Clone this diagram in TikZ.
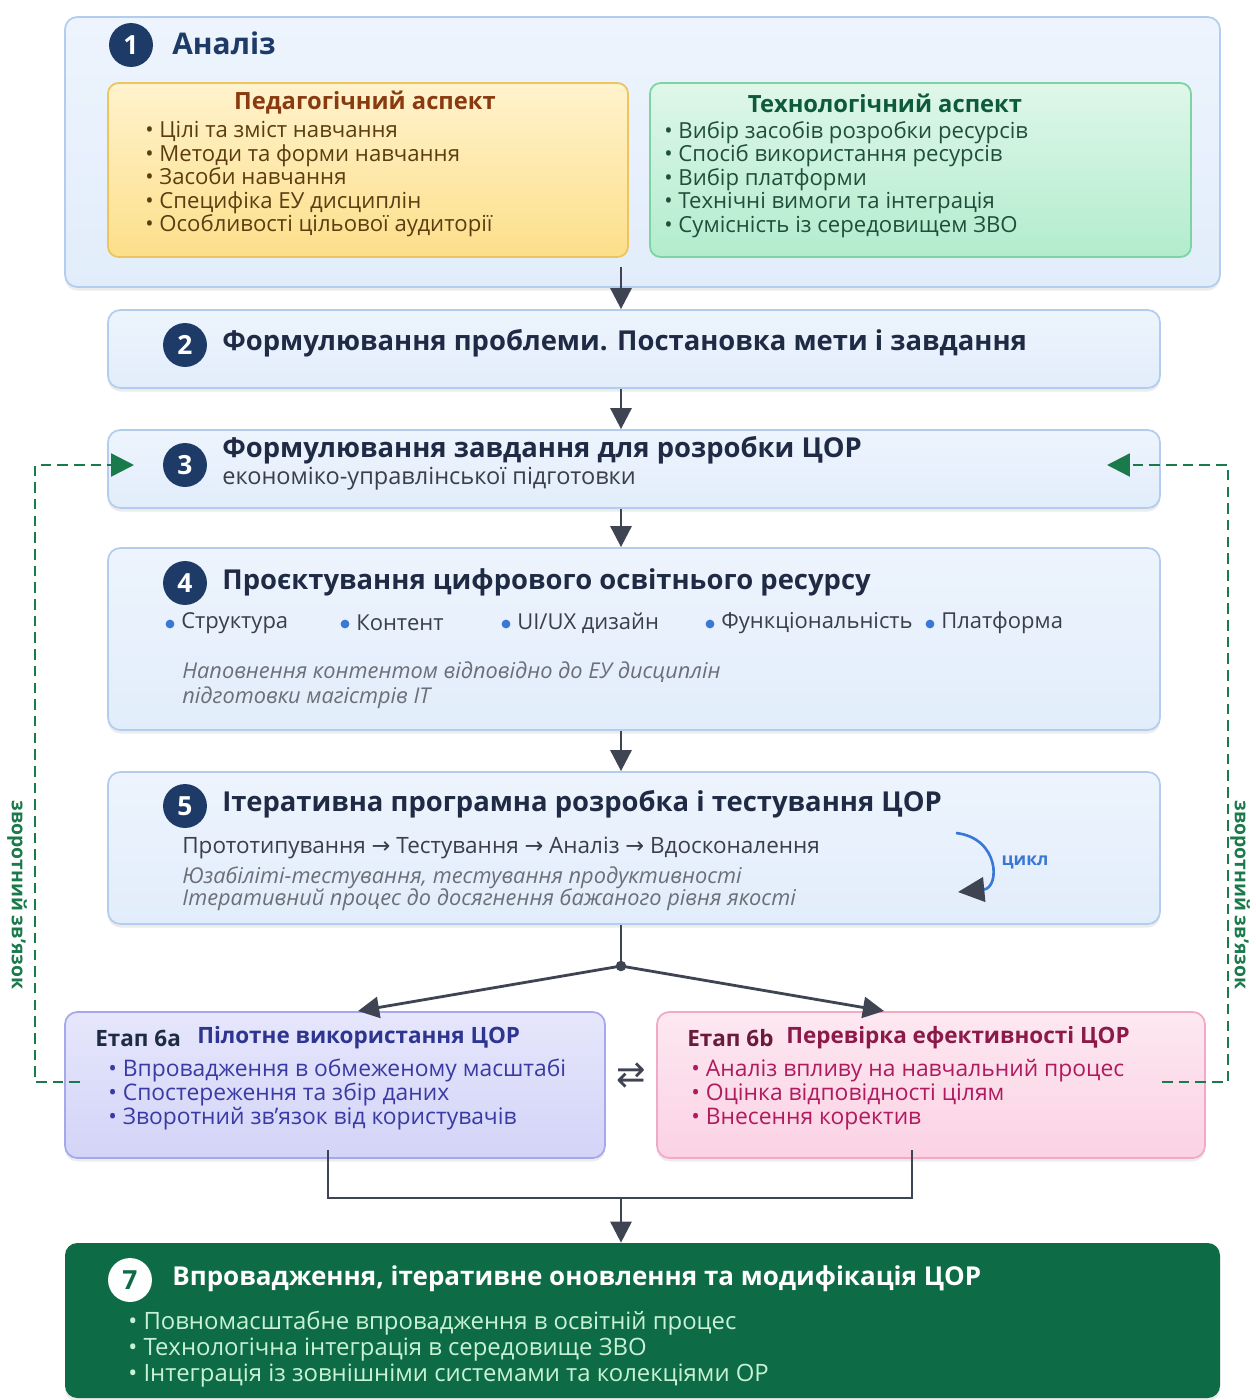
\documentclass[tikz,border=0pt]{standalone}
\usepackage{fontspec}
\setmainfont{Open Sans}
\newfontfamily\symfont{DejaVu Sans}
\usetikzlibrary{arrows.meta,fit,shadows}

\definecolor{navy}{HTML}{1E3A66}
\definecolor{titlecol}{HTML}{1F2B45}
\definecolor{bodytext}{HTML}{3A3F4A}
\definecolor{greytext}{HTML}{6B6F78}
\definecolor{boxtop}{HTML}{EDF4FD}
\definecolor{boxbot}{HTML}{E2EDFB}
\definecolor{boxline}{HTML}{B3CDEE}
\definecolor{flowcol}{HTML}{3F4452}
\definecolor{pedtop}{HTML}{FFF3CD}
\definecolor{pedbot}{HTML}{FDDF8A}
\definecolor{pedline}{HTML}{EEC45E}
\definecolor{pedtitle}{HTML}{8A3A10}
\definecolor{peditem}{HTML}{5C3D12}
\definecolor{techtop}{HTML}{DFF7E9}
\definecolor{techbot}{HTML}{B2ECCD}
\definecolor{techline}{HTML}{7DD3A3}
\definecolor{techtitle}{HTML}{0E5A3C}
\definecolor{techitem}{HTML}{1F4F3A}
\definecolor{pilottop}{HTML}{E6E6FC}
\definecolor{pilotbot}{HTML}{D3D4F7}
\definecolor{pilotline}{HTML}{A5A8EC}
\definecolor{pilottitle}{HTML}{2D3590}
\definecolor{pilotitem}{HTML}{3A3AA5}
\definecolor{checktop}{HTML}{FDE8F1}
\definecolor{checkbot}{HTML}{FBD2E4}
\definecolor{checkline}{HTML}{F2A9C6}
\definecolor{checkhead}{HTML}{6A1A3A}
\definecolor{checktitle}{HTML}{8B1A4A}
\definecolor{checkitem}{HTML}{B01A5E}
\definecolor{finalfill}{HTML}{0D6B45}
\definecolor{finalitem}{HTML}{C8F2D6}
\definecolor{fbcol}{HTML}{1B7A4C}
\definecolor{dotblue}{HTML}{3A78D6}

\begin{document}
\begin{tikzpicture}[x=0.02cm, y=-0.02cm,
  stagebox/.style={draw=boxline, line width=1pt, rounded corners=7pt, inner sep=0pt,
    top color=boxtop, bottom color=boxbot,
    drop shadow={opacity=0.15, shadow xshift=0pt, shadow yshift=-2pt}},
  aspectbox/.style={line width=1pt, rounded corners=6pt, inner sep=0pt},
  badge/.style={circle, fill=navy, text=white, minimum size=25pt, inner sep=0pt,
    font=\fontsize{15}{15}\selectfont\bfseries},
  stagetitle/.style={anchor=west, inner sep=0pt, text=titlecol,
    font=\fontsize{15.6}{18}\selectfont\bfseries},
  list/.style={anchor=north west, align=left, inner sep=0pt},
  bdot/.style={circle, fill=dotblue, inner sep=0pt, minimum size=5pt},
  flow/.style={-{Triangle[length=12pt,width=12pt]}, line width=1.6pt, draw=flowcol},
  link/.style={line width=1.6pt, draw=flowcol},
  feedback/.style={-{Triangle[length=13pt,width=13pt]}, line width=1.4pt, draw=fbcol,
    dash pattern=on 6pt off 3.5pt},
  sidelabel/.style={rotate=-90, text=fbcol, font=\fontsize{11}{13}\selectfont\bfseries}]

  \fill[white] (0,0) rectangle (1255,1400);
  \useasboundingbox (0,0) rectangle (1255,1400);

  % Stage 1: analysis with two aspects
  \node[stagebox, fit={(65,17) (1220,287)}] (s1) {};
  \node[badge] (n1) at (131,45) {1};
  \node[stagetitle, text=navy, font=\fontsize{17}{20}\selectfont\bfseries] (t1) at (172,43) {Аналіз};

  \node[aspectbox, draw=pedline, top color=pedtop, bottom color=pedbot, fit={(108,83) (628,257)}] (ped) {};
  \node[text=pedtitle, font=\fontsize{13.5}{16}\selectfont\bfseries] (pedT) at (365,103) {Педагогічний аспект};
  \node[list, text=peditem, font=\fontsize{12.6}{13.4}\selectfont] (pedL) at (145,121)
    {• Цілі та зміст навчання\\ • Методи та форми навчання\\ • Засоби навчання\\
     • Специфіка ЕУ дисциплін\\ • Особливості цільової аудиторії};

  \node[aspectbox, draw=techline, top color=techtop, bottom color=techbot, fit={(650,83) (1191,257)}] (tech) {};
  \node[text=techtitle, font=\fontsize{13.5}{16}\selectfont\bfseries] (techT) at (885,103) {Технологічний аспект};
  \node[list, text=techitem, font=\fontsize{12.6}{13.4}\selectfont] (techL) at (664,121)
    {• Вибір засобів розробки ресурсів\\ • Спосіб використання ресурсів\\ • Вибір платформи\\
     • Технічні вимоги та інтеграція\\ • Сумісність із середовищем ЗВО};

  % Stages 2 and 3
  \node[stagebox, fit={(108,310) (1160,388)}] (s2) {};
  \node[badge] (n2) at (185,345) {2};
  \node[stagetitle] (t2) at (222,343) {Формулювання проблеми. Постановка мети і завдання};

  \node[stagebox, fit={(108,430) (1160,508)}] (s3) {};
  \node[badge] (n3) at (185,465) {3};
  \node[stagetitle] (t3) at (222,450) {Формулювання завдання для розробки ЦОР};
  \node[anchor=west, inner sep=0pt, text=bodytext, font=\fontsize{13.4}{15}\selectfont] (t3b) at (222,479)
    {економіко-управлінської підготовки};

  % Stage 4: design
  \node[stagebox, fit={(108,548) (1160,730)}] (s4) {};
  \node[badge] (n4) at (185,583) {4};
  \node[stagetitle] (t4) at (222,582) {Проєктування цифрового освітнього ресурсу};
  \node[bdot] (d1) at (170,624) {};
  \node[bdot] (d2) at (345,624) {};
  \node[bdot] (d3) at (506,624) {};
  \node[bdot] (d4) at (710,624) {};
  \node[bdot] (d5) at (930,624) {};
  \node[anchor=west, inner sep=0pt, text=bodytext, font=\fontsize{12.5}{15}\selectfont] (b1) at (181,623) {Структура};
  \node[anchor=west, inner sep=0pt, text=bodytext, font=\fontsize{12.5}{15}\selectfont] (b2) at (356,623) {Контент};
  \node[anchor=west, inner sep=0pt, text=bodytext, font=\fontsize{12.5}{15}\selectfont] (b3) at (517,623) {UI/UX дизайн};
  \node[anchor=west, inner sep=0pt, text=bodytext, font=\fontsize{12.5}{15}\selectfont] (b4) at (721,623) {Функціональність};
  \node[anchor=west, inner sep=0pt, text=bodytext, font=\fontsize{12.5}{15}\selectfont] (b5) at (941,623) {Платформа};
  \node[list, text=greytext, font=\fontsize{12.4}{14.7}\selectfont\itshape] (t4i) at (182,661)
    {Наповнення контентом відповідно до ЕУ дисциплін\\ підготовки магістрів IT};

  % Stage 5: iterative development
  \node[stagebox, fit={(108,772) (1160,924)}] (s5) {};
  \node[badge] (n5) at (185,806) {5};
  \node[stagetitle] (t5) at (222,804) {Ітеративна програмна розробка і тестування ЦОР};
  \node[anchor=west, inner sep=0pt, text=bodytext, font=\fontsize{12.8}{15}\selectfont] (t5a) at (182,848)
    {Прототипування {\symfont →} Тестування {\symfont →} Аналіз {\symfont →} Вдосконалення};
  \node[list, text=greytext, font=\fontsize{12.4}{13}\selectfont\itshape] (t5i) at (182,866)
    {Юзабіліті-тестування, тестування продуктивності\\ Ітеративний процес до досягнення бажаного рівня якості};
  \coordinate (c1) at (956,833);
  \coordinate (c2) at (958,892);
  \draw[draw=dotblue, line width=1.5pt, -{Triangle[length=15pt,width=14pt,fill=flowcol,color=flowcol]}]
    (c1) .. controls (1000,838) and (1000,888) .. (c2);
  \node[text=dotblue, font=\fontsize{10}{12}\selectfont\bfseries] (cyc) at (1025,862) {цикл};

  % Stages 6a and 6b
  \node[stagebox, draw=pilotline, top color=pilottop, bottom color=pilotbot, fit={(65,1012) (605,1158)}] (s6a) {};
  \node[anchor=west, inner sep=0pt, text=titlecol, font=\fontsize{12.8}{16}\selectfont\bfseries] (e6a) at (95,1038) {Етап 6а};
  \node[anchor=west, inner sep=0pt, text=pilottitle, font=\fontsize{12.8}{16}\selectfont\bfseries] (h6a) at (197,1038) {Пілотне використання ЦОР};
  \node[list, text=pilotitem, font=\fontsize{13}{13.6}\selectfont] (l6a) at (108,1059)
    {• Впровадження в обмеженому масштабі\\ • Спостереження та збір даних\\ • Зворотний зв'язок від користувачів};

  \node[stagebox, draw=checkline, top color=checktop, bottom color=checkbot, fit={(657,1012) (1205,1158)}] (s6b) {};
  \node[anchor=west, inner sep=0pt, text=checkhead, font=\fontsize{12.8}{16}\selectfont\bfseries] (e6b) at (687,1038) {Етап 6b};
  \node[anchor=west, inner sep=0pt, text=checktitle, font=\fontsize{12.8}{16}\selectfont\bfseries] (h6b) at (786,1038) {Перевірка ефективності ЦОР};
  \node[list, text=checkitem, font=\fontsize{13}{13.6}\selectfont] (l6b) at (691,1059)
    {• Аналіз впливу на навчальний процес\\ • Оцінка відповідності цілям\\ • Внесення коректив};

  \node[text=flowcol, font=\symfont\fontsize{20}{20}\selectfont] (sw) at (631,1075) {⇄};

  % Stage 7: final
  \node[fill=finalfill, rounded corners=7pt, inner sep=0pt, fit={(65,1243) (1220,1398)},
    drop shadow={opacity=0.15, shadow xshift=0pt, shadow yshift=-2pt}] (s7) {};
  \node[badge, fill=white, text=finalfill] (n7) at (130,1280) {7};
  \node[stagetitle, text=white, font=\fontsize{14.8}{17}\selectfont\bfseries] (t7) at (172,1279)
    {Впровадження, ітеративне оновлення та модифікація ЦОР};
  \node[list, text=finalitem, font=\fontsize{13.6}{14.7}\selectfont] (l7) at (128,1311)
    {• Повномасштабне впровадження в освітній процес\\ • Технологічна інтеграція в середовище ЗВО\\
     • Інтеграція із зовнішніми системами та колекціями ОР};

  % Main flow
  \coordinate (J) at (621,966);
  \draw[flow] ([yshift=12pt]s1.south -| J) -- (s2.north -| J);
  \draw[flow] (s2.south -| J) -- (s3.north -| J);
  \draw[flow] (s3.south -| J) -- (s4.north -| J);
  \draw[flow] (s4.south -| J) -- (s5.north -| J);

  \coordinate (in6a) at (358,1011);
  \coordinate (in6b) at (884,1011);
  \draw[link] (s5.south -| J) -- (J);
  \fill[flowcol] (J) circle (3pt);
  \draw[flow] (J) -- (in6a);
  \draw[flow] (J) -- (in6b);

  \coordinate (m0) at (621,1198);
  \coordinate (m1) at (328,1198);
  \coordinate (m2) at (912,1198);
  \draw[link] ([yshift=5pt]s6a.south -| m1) -- (m1) -- (m2) -- ([yshift=5pt]s6b.south -| m2);
  \draw[flow] (m0) -- (s7.north -| m0);

  % Feedback loops
  \coordinate (fbL0) at (80,1082);
  \coordinate (fbL1) at (35,1082);
  \coordinate (fbL2) at (35,465);
  \coordinate (fbL3) at (134,465);
  \draw[feedback] (fbL0) -- (fbL1) -- (fbL2) -- (fbL3);
  \coordinate (fbR0) at (1162,1082);
  \coordinate (fbR1) at (1228,1082);
  \coordinate (fbR2) at (1228,465);
  \coordinate (fbR3) at (1107,465);
  \draw[feedback] (fbR0) -- (fbR1) -- (fbR2) -- (fbR3);
  \node[sidelabel] (sl) at (17,895) {зворотний зв'язок};
  \node[sidelabel] (sr) at (1240,895) {зворотний зв'язок};
\end{tikzpicture}
\end{document}
